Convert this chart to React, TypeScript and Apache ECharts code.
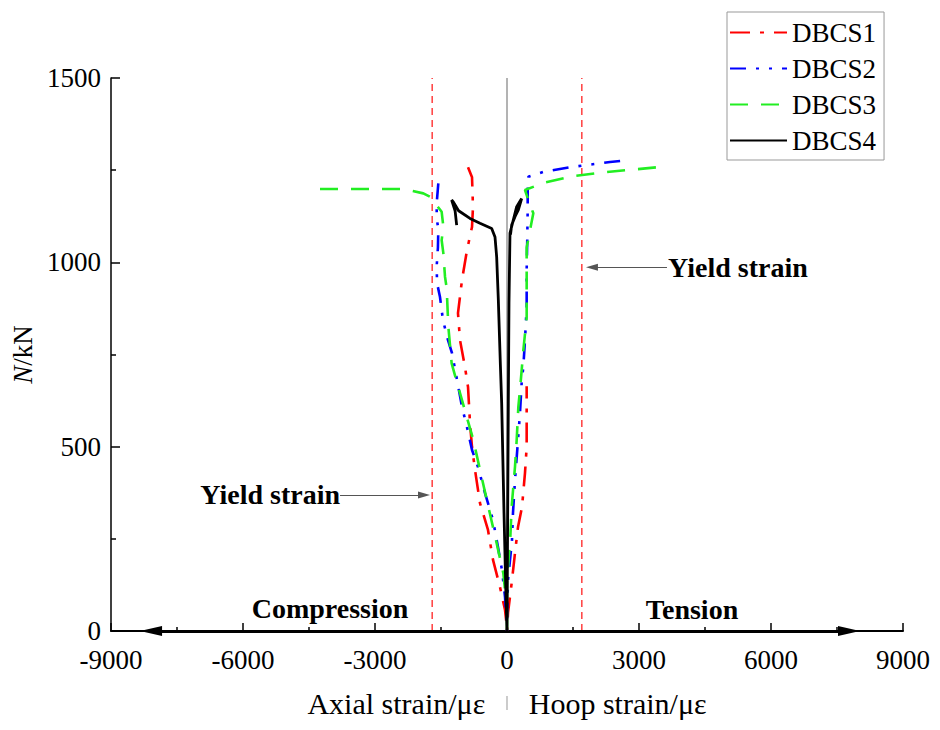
import React, { useEffect, useRef } from "react";
import * as echarts from "echarts";

const FONT = "Liberation Serif, Times New Roman, serif";

const seriesNames = ["DBCS1", "DBCS2", "DBCS3", "DBCS4"];
const seriesColors = ["#ff0000", "#0000ff", "#22ee22", "#000000"];

// [strain (με), N (kN)] — axial branch (negative) then hoop branch (positive)
const dbcs1: number[][] = [
  [-886, 1258], [-795, 1231], [-773, 1150], [-795, 1096], [-909, 1033], [-1023, 952],
  [-1114, 862], [-1068, 789], [-955, 716], [-886, 662], [-841, 564], [-795, 499],
  [-727, 437], [-614, 347], [-432, 274], [-318, 193], [-159, 119], [-45, 57], [0, 8], [0, 0],
  [23, 49], [114, 138], [182, 212], [250, 282], [341, 336], [409, 429], [447, 499], [447, 580], [447, 664],
];
const dbcs2: number[][] = [
  [-1561, 1214], [-1598, 1160], [-1598, 1120], [-1561, 1090], [-1570, 1040], [-1598, 990],
  [-1590, 944], [-1523, 906], [-1455, 843], [-1341, 789], [-1250, 754], [-1136, 681],
  [-1023, 608], [-909, 553], [-795, 491], [-659, 445], [-500, 374], [-318, 301], [-205, 228],
  [-114, 165], [-45, 92], [0, 8], [0, 0],
  [0, 30], [23, 138], [114, 247], [136, 320], [182, 410], [250, 518], [295, 591], [333, 673],
  [371, 717], [409, 789], [447, 880], [447, 980], [460, 1060], [470, 1140], [470, 1200], [485, 1232],
  [818, 1245], [1432, 1258], [1818, 1264], [2341, 1272], [2750, 1277],
];
const dbcs3: number[][] = [
  [-4250, 1199], [-3200, 1199], [-2364, 1199], [-1902, 1187], [-1750, 1178], [-1485, 1137],
  [-1447, 1097], [-1485, 1060], [-1447, 1025], [-1409, 961], [-1371, 930], [-1333, 825],
  [-1258, 726], [-1068, 645], [-765, 518], [-614, 437], [-424, 337], [-235, 238], [-83, 156],
  [0, 57], [0, 0],
  [0, 138], [76, 256], [106, 337], [182, 446], [220, 518], [258, 608], [300, 660], [370, 760],
  [447, 850], [447, 950], [447, 1040], [598, 1133], [485, 1169], [409, 1196],
  [818, 1215], [1500, 1234], [2273, 1245], [3432, 1258],
];
const dbcs4: number[][] = [
  [-1144, 1101], [-1180, 1140], [-1258, 1169], [-1220, 1164], [-1100, 1140], [-841, 1119],
  [-614, 1106], [-348, 1092], [-273, 1069], [-235, 1015], [-197, 898], [-150, 720],
  [-121, 618], [-68, 320], [-23, 92], [0, 0],
  [30, 618], [45, 889], [68, 1079], [144, 1115], [220, 1151], [333, 1173], [258, 1142],
  [182, 1124], [106, 1101], [80, 1075],
];
const seriesData = [dbcs1, dbcs2, dbcs3, dbcs4];
const dashTypes: any[] = [[20, 10, 4, 10], [16, 10, 3, 10, 3, 10], [18, 13], "solid"];

const xMin = -9000;
const xMax = 9000;
const xInterval = 3000;
const yMin = 0;
const yMax = 1500;
const yInterval = 500;
const yieldStrain = 1700;

// annotation anchors in data coordinates
const arrowLeftEnd = -8090;
const arrowRightEnd = 7773;
const yieldArrowRight = { from: [3636, 987], to: [1931, 987] };
const yieldArrowLeft = { from: [-3795, 369], to: [-1886, 369] };
const compressionPos = [-4023, 62];
const tensionPos = [4205, 57];
const yieldTextRight = [3659, 985];
const yieldTextLeft = [-3795, 369];

export default function App() {
  const ref = useRef<HTMLDivElement>(null);
  useEffect(() => {
    const chart = echarts.init(ref.current!, null, { renderer: "svg" });
    const lineSeries = seriesNames.map((name, i) => ({
      name,
      type: "line",
      data: seriesData[i],
      symbol: "none",
      showSymbol: false,
      smooth: false,
      z: 5 + i,
      color: seriesColors[i],
      lineStyle: { color: seriesColors[i], width: i === 3 ? 2.8 : 2.6, type: dashTypes[i] },
    }));
    chart.setOption({
      animation: false,
      backgroundColor: "#ffffff",
      textStyle: { fontFamily: FONT },
      grid: { left: 111, right: 37, top: 78, bottom: 99, containLabel: false },
      legend: {
        data: seriesNames,
        orient: "vertical",
        left: 727,
        top: 12,
        itemWidth: 57,
        itemHeight: 14,
        itemGap: 9,
        padding: [7, 8, 6, 2],
        borderColor: "#999",
        borderWidth: 1,
        itemStyle: { opacity: 0, color: "rgba(0,0,0,0)", borderWidth: 0 },
        textStyle: { fontSize: 27, fontFamily: FONT, color: "#000" },
      },
      xAxis: {
        type: "value",
        min: xMin,
        max: xMax,
        interval: xInterval,
        splitLine: { show: false },
        axisLine: { onZero: false, lineStyle: { color: "#000", width: 2 } },
        axisTick: { inside: true, length: 8, lineStyle: { color: "#000", width: 1.5 } },
        minorTick: { show: true, splitNumber: 2, length: 4, lineStyle: { color: "#000", width: 1.5 } },
        axisLabel: {
          fontSize: 27, fontFamily: FONT, color: "#000", margin: 15, lineHeight: 27,
          showMinLabel: true, showMaxLabel: true,
          formatter: (v: number) => String(v),
        },
        name: "{a|Axial strain/με}{g| }{s| }{g| }{a|Hoop strain/με}",
        nameLocation: "middle",
        nameGap: 57,
        nameTextStyle: {
          fontSize: 30, fontFamily: FONT, color: "#000",
          rich: {
            a: { fontSize: 30, fontFamily: FONT, color: "#000" },
            g: { width: 21, fontSize: 30, fontFamily: FONT },
            s: { width: 1.5, height: 14, backgroundColor: "#bbbbbb", fontSize: 10 },
          },
        },
      },
      yAxis: {
        type: "value",
        min: yMin,
        max: yMax,
        interval: yInterval,
        splitLine: { show: false },
        axisLine: { onZero: false, lineStyle: { color: "#000", width: 1.5 } },
        axisTick: { inside: true, length: 9, lineStyle: { color: "#000", width: 1.5 } },
        minorTick: { show: true, splitNumber: 2, length: 5, lineStyle: { color: "#000", width: 1.5 } },
        axisLabel: {
          fontSize: 27, fontFamily: FONT, color: "#000", margin: 10, lineHeight: 21,
          showMinLabel: true, showMaxLabel: true,
          formatter: (v: number) => String(v),
        },
        name: "{i|N}{r|/kN}",
        nameLocation: "middle",
        nameGap: 68,
        nameRotate: 90,
        nameTextStyle: {
          fontSize: 27, fontFamily: FONT, color: "#000",
          rich: {
            i: { fontStyle: "italic", fontSize: 27, fontFamily: FONT, color: "#000" },
            r: { fontSize: 27, fontFamily: FONT, color: "#000" },
          },
        },
      },
      series: [
        {
          name: "yieldLeft",
          type: "line",
          data: [[-yieldStrain, yMin], [-yieldStrain, yMax]],
          symbol: "none",
          silent: true,
          z: 2,
          lineStyle: { color: "#ff4a4a", width: 1.6, type: [7, 5] },
        },
        {
          name: "yieldRight",
          type: "line",
          data: [[yieldStrain, yMin], [yieldStrain, yMax]],
          symbol: "none",
          silent: true,
          z: 2,
          lineStyle: { color: "#ff4a4a", width: 1.6, type: [7, 5] },
        },
        {
          name: "centerLine",
          type: "line",
          data: [[0, yMin], [0, yMax]],
          symbol: "none",
          silent: true,
          z: 2,
          lineStyle: { color: "#808080", width: 1.2, type: "solid" },
          markLine: {
            silent: true,
            symbol: ["none", "triangle"],
            symbolSize: [10, 22],
            label: { show: false },
            lineStyle: { color: "#000", width: 3, type: "solid" },
            data: [
              [{ coord: [0, 0] }, { coord: [arrowLeftEnd, 0] }],
              [{ coord: [0, 0] }, { coord: [arrowRightEnd, 0] }],
            ],
          },
        },
        {
          name: "yieldArrows",
          type: "line",
          data: [],
          symbol: "none",
          silent: true,
          z: 3,
          markLine: {
            silent: true,
            symbol: ["none", "triangle"],
            symbolSize: [7, 12],
            label: { show: false },
            lineStyle: { color: "#555", width: 1.2, type: "solid" },
            data: [
              [{ coord: yieldArrowRight.from }, { coord: yieldArrowRight.to }],
              [{ coord: yieldArrowLeft.from }, { coord: yieldArrowLeft.to }],
            ],
          },
        },
        ...lineSeries,
      ],
    });

    const px = (pt: number[]) => chart.convertToPixel({ gridIndex: 0 }, pt) as number[];
    const boldFont = `bold 28px ${FONT}`;
    const mkText = (pt: number[], text: string, align: string) => {
      const p = px(pt);
      return {
        type: "text",
        x: p[0],
        y: p[1],
        z: 10,
        style: {
          text,
          fill: "#000",
          font: boldFont,
          textAlign: align,
          align,
          textVerticalAlign: "middle",
          verticalAlign: "middle",
        },
      };
    };
    chart.setOption({
      graphic: [
        mkText(compressionPos, "Compression", "center"),
        mkText(tensionPos, "Tension", "center"),
        mkText(yieldTextRight, "Yield strain", "left"),
        mkText(yieldTextLeft, "Yield strain", "right"),
      ],
    });
    return () => chart.dispose();
  }, []);
  return (
    <div
      ref={ref}
      style={{ position: "fixed", left: 0, top: 0, width: 940, height: 730, background: "#fff" }}
    />
  );
}
